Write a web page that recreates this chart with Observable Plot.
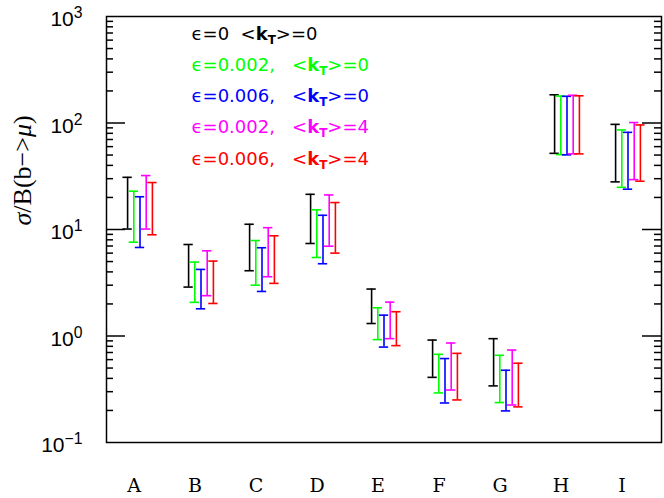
<!DOCTYPE html>
<html><head><meta charset="utf-8">
<script src="https://cdn.jsdelivr.net/npm/d3@7"></script>
<script src="https://cdn.jsdelivr.net/npm/@observablehq/plot@0.6"></script>
<style>body{margin:0;background:#fff}</style>
</head><body><div id="chart"></div>
<script>
// ---- data ----
const categories = ["A","B","C","D","E","F","G","H","I"];
const seriesLabels = ["ϵ=0  <kT>=0", "ϵ=0.002,   <kT>=0", "ϵ=0.006,   <kT>=0", "ϵ=0.002,   <kT>=4", "ϵ=0.006,   <kT>=4"];
const lowBlack    = [10.1, 2.88, 4.10, 7.39, 1.31, 0.409, 0.340, 51.9, 28.0];
const highBlack   = [30.9, 7.23, 11.2, 21.4, 2.76, 0.916, 0.944, 184, 97.1];
const lowGreen    = [7.6, 2.07, 3.00, 5.46, 0.925, 0.292, 0.237, 50.5, 24.9];
const highGreen   = [22.9, 4.94, 7.88, 15.3, 1.84, 0.673, 0.659, 179, 86.1];
const lowBlue     = [6.78, 1.80, 2.62, 4.77, 0.787, 0.235, 0.198, 50.2, 23.9];
const highBlue    = [20.3, 4.22, 6.74, 13.6, 1.57, 0.614, 0.477, 178, 81.7];
const lowMagenta  = [10.1, 2.39, 3.60, 6.97, 0.944, 0.311, 0.225, 51.3, 29.4];
const highMagenta = [32.1, 6.31, 10.4, 21.1, 2.08, 0.859, 0.738, 182, 101];
const lowRed      = [8.92, 2.02, 3.12, 6.00, 0.812, 0.251, 0.216, 51.3, 28.4];
const highRed     = [27.6, 5.05, 8.73, 17.9, 1.69, 0.687, 0.555, 180, 95.9];
const yTickValues = [0.1, 1, 10, 100, 1000];
const yTickExponents = ["−1", "0", "1", "2", "3"];
const yLabel = "σ/B(b−>μ)";

// ---- styles ----
const seriesColors = ["#000000", "#00ff00", "#0000ff", "#ff00ff", "#ff0000"];
const seriesDx = [-12.4, -6.2, 0, 6.2, 12.4];
const lows = [lowBlack, lowGreen, lowBlue, lowMagenta, lowRed];
const highs = [highBlack, highGreen, highBlue, highMagenta, highRed];

const W = 664, H = 498;
const mL = 106, mR = 3, mT = 16, mB = 56;
const innerW = W - mL - mR;
const band = innerW / categories.length;
const capInset = band / 2 - 5;

const majorTicks = [1, 10, 100];
const minorTicks = d3.range(-1, 3).flatMap(k => d3.range(2, 10).map(m => +(m * Math.pow(10, k)).toPrecision(3)));

const marks = [];
// ticks inside the frame (left & right)
marks.push(Plot.tickY(majorTicks, {y: d => d, insetRight: innerW - 19, stroke: "#000", strokeWidth: 1.5}));
marks.push(Plot.tickY(majorTicks, {y: d => d, insetLeft: innerW - 19, stroke: "#000", strokeWidth: 1.5}));
marks.push(Plot.tickY(minorTicks, {y: d => d, insetRight: innerW - 7, stroke: "#000", strokeWidth: 1.5}));
marks.push(Plot.tickY(minorTicks, {y: d => d, insetLeft: innerW - 7, stroke: "#000", strokeWidth: 1.5}));

seriesLabels.forEach((label, i) => {
  const rows = categories.map((c, j) => ({cat: c, lo: lows[i][j], hi: highs[i][j]}));
  const st = {stroke: seriesColors[i], strokeWidth: 1.6, dx: seriesDx[i]};
  marks.push(Plot.ruleX(rows, {x: "cat", y1: "lo", y2: "hi", ...st}));
  marks.push(Plot.tickY(rows, {x: "cat", y: "lo", insetLeft: capInset, insetRight: capInset, ...st}));
  marks.push(Plot.tickY(rows, {x: "cat", y: "hi", insetLeft: capInset, insetRight: capInset, ...st}));
  marks.push(Plot.text([label], {
    frameAnchor: "top-left", text: d => d, fill: seriesColors[i],
    dx: 85, dy: 17.6 + i * 31.2, textAnchor: "start", lineAnchor: "middle",
    fontSize: 18, fontFamily: "DejaVu Sans", className: "legend-line"
  }));
});

marks.push(Plot.frame({stroke: "#000", strokeWidth: 1.5}));
marks.push(Plot.axisY({ticks: yTickValues, tickSize: 0, tickPadding: 24, dy: 3,
  tickFormat: d => "10^" + yTickExponents[yTickValues.indexOf(d)],
  fontSize: 21, fontFamily: "Liberation Sans", label: null}));
marks.push(Plot.axisX({tickSize: 0, tickPadding: 36, fontSize: 19, fontFamily: "DejaVu Serif", dx: -6, label: null}));
marks.push(Plot.text([yLabel], {frameAnchor: "left", text: d => d, rotate: -90, dx: -84, dy: -4, fontSize: 26, fontFamily: "Liberation Serif", fill: "#000", className: "ylab"}));

const svg = Plot.plot({
  width: W, height: H,
  marginLeft: mL, marginRight: mR, marginTop: mT, marginBottom: mB,
  x: {type: "band", domain: categories, padding: 0},
  y: {type: "log", domain: [0.1, 1000]},
  style: {background: "#fff", color: "#000"},
  marks
});

const NS = "http://www.w3.org/2000/svg";
// superscripts on y tick labels
svg.querySelectorAll("text").forEach(t => {
  const s = t.textContent;
  if (s.startsWith("10^")) {
    const exp = s.slice(3);
    t.textContent = "";
    const a = document.createElementNS(NS, "tspan");
    a.textContent = "10";
    const b = document.createElementNS(NS, "tspan");
    b.textContent = exp; b.setAttribute("dy", "-0.5em"); b.setAttribute("font-size", "0.75em");
    t.appendChild(a); t.appendChild(b);
  }
});
// subscript T in legend
svg.querySelectorAll(".legend-line text").forEach(t => {
  const s = t.textContent;
  if (!s.includes("kT")) return;
  const [pre, post] = s.split("kT");
  t.textContent = "";
  t.style.whiteSpace = "pre";
  const mk = (txt, attrs) => {
    const e = document.createElementNS(NS, "tspan");
    e.textContent = txt;
    for (const k in attrs) e.setAttribute(k, attrs[k]);
    t.appendChild(e);
  };
  mk(pre, {});
  mk("k", {"font-weight": "bold"});
  mk("T", {"font-weight": "bold", "font-size": "12", "dy": "4"});
  mk(post, {"dy": "-4"});
});
// italic sigma and mu in y label
svg.querySelectorAll(".ylab text").forEach(t => {
  t.textContent = "";
  t.style.whiteSpace = "pre";
  const parts = [["σ", true], ["/B(b", false], ["−>", false], ["μ", true], [")", false]];
  for (const [txt, it] of parts) {
    const e = document.createElementNS(NS, "tspan");
    e.textContent = txt;
    if (it) e.setAttribute("font-style", "italic");
    t.appendChild(e);
  }
});

document.getElementById("chart").appendChild(svg);
</script>
</body></html>
